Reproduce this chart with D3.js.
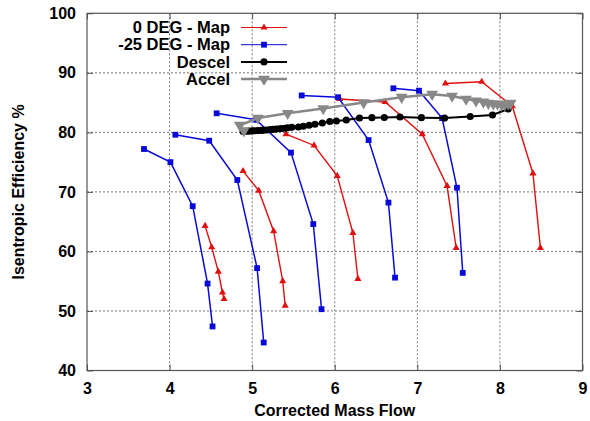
<!DOCTYPE html>
<html>
<head>
<meta charset="utf-8">
<script src="https://cdn.jsdelivr.net/npm/d3@7"></script>
<style>
  body { margin: 0; background: #fff; }
  svg text { font-family: "Liberation Sans", Arial, sans-serif; font-weight: bold; }
</style>
</head>
<body>
<svg id="chart"></svg>
<script>
// speed lines, [corrected mass flow, isentropic efficiency]
const map0deg = [
  [[4.43, 64.3], [4.51, 60.7], [4.59, 56.6], [4.64, 53.1], [4.66, 52.0]],
  [[4.89, 73.5], [5.08, 70.2], [5.26, 63.4], [5.37, 55.0], [5.40, 50.9]],
  [[5.41, 79.7], [5.75, 77.8], [6.03, 72.7], [6.22, 63.1], [6.28, 55.4]],
  [[6.06, 85.6], [6.61, 85.1], [7.06, 79.7], [7.36, 71.0], [7.47, 60.6]],
  [[7.34, 88.2], [7.78, 88.5], [8.15, 84.4], [8.40, 73.1], [8.49, 60.6]]
];

const map25deg = [
  [[3.69, 77.2], [4.01, 75.0], [4.28, 67.6], [4.46, 54.6], [4.52, 47.4]],
  [[4.07, 79.6], [4.48, 78.6], [4.82, 72.0], [5.06, 57.2], [5.14, 44.7]],
  [[4.57, 83.2], [5.05, 82.1], [5.47, 76.6], [5.74, 64.6], [5.84, 50.3]],
  [[5.60, 86.2], [6.04, 85.9], [6.41, 78.7], [6.65, 68.2], [6.73, 55.6]],
  [[6.71, 87.4], [7.02, 87.0], [7.30, 82.4], [7.48, 70.7], [7.55, 56.4]]
];

const descel = [
  [4.89, 80.15], [4.93, 80.18], [4.96, 80.2], [5.00, 80.24], [5.03, 80.27],
  [5.07, 80.3], [5.11, 80.33], [5.14, 80.37], [5.18, 80.4], [5.22, 80.45],
  [5.25, 80.5], [5.29, 80.55], [5.33, 80.6], [5.36, 80.65], [5.40, 80.7],
  [5.43, 80.77], [5.48, 80.84], [5.56, 80.9], [5.62, 81.02], [5.69, 81.19],
  [5.76, 81.37], [5.85, 81.58], [5.94, 81.83], [6.02, 81.91], [6.14, 82.08],
  [6.30, 82.41], [6.45, 82.47], [6.60, 82.5], [6.79, 82.58], [7.05, 82.47],
  [7.33, 82.4], [7.64, 82.67], [7.91, 82.92], [8.10, 83.93]
];

const accel = [
  [4.90, 80.3], [4.85, 81.2], [5.07, 82.4], [5.43, 83.2], [5.86, 84.0],
  [6.35, 85.0], [6.81, 85.9], [7.18, 86.4], [7.42, 86.1], [7.59, 85.6],
  [7.71, 85.3], [7.80, 85.1], [7.86, 84.9], [7.92, 84.8], [7.97, 84.8],
  [8.02, 84.7], [8.06, 84.7], [8.10, 84.8], [8.13, 84.9]
];

const xTicks = [3, 4, 5, 6, 7, 8, 9];
const yTicks = [40, 50, 60, 70, 80, 90, 100];

const W = 590, H = 421;
const margin = { top: 13.3, right: 7.5, bottom: 50.5, left: 87 };
const width = W - margin.left - margin.right;
const height = H - margin.top - margin.bottom;

const root = d3.select("#chart").attr("width", W).attr("height", H);
const svg = root.append("g").attr("transform", `translate(${margin.left},${margin.top})`);

const x = d3.scaleLinear().domain([3, 9]).range([0, width]);
const y = d3.scaleLinear().domain([40, 100]).range([height, 0]);

// grid
svg.append("g").selectAll("line").data(xTicks.slice(1, -1)).enter().append("line")
  .attr("x1", d => x(d)).attr("x2", d => x(d)).attr("y1", 0).attr("y2", height)
  .attr("stroke", "#777").attr("stroke-width", 1).attr("stroke-dasharray", "2,2");
svg.append("g").selectAll("line").data(yTicks.slice(1, -1)).enter().append("line")
  .attr("y1", d => y(d)).attr("y2", d => y(d)).attr("x1", 0).attr("x2", width)
  .attr("stroke", "#777").attr("stroke-width", 1).attr("stroke-dasharray", "2,2");

// axes with inward ticks on all sides
const ax = [
  svg.append("g").attr("transform", `translate(0,${height})`)
    .call(d3.axisBottom(x).tickValues(xTicks).tickFormat(d3.format("d")).tickSizeInner(-6).tickSizeOuter(0).tickPadding(12)),
  svg.append("g")
    .call(d3.axisLeft(y).tickValues(yTicks).tickFormat(d3.format("d")).tickSizeInner(-6).tickSizeOuter(0).tickPadding(11)),
  svg.append("g")
    .call(d3.axisTop(x).tickValues(xTicks).tickSizeInner(-6).tickSizeOuter(0).tickFormat("")),
  svg.append("g").attr("transform", `translate(${width},0)`)
    .call(d3.axisRight(y).tickValues(yTicks).tickSizeInner(-6).tickSizeOuter(0).tickFormat(""))
];
ax.forEach(g => {
  g.selectAll("path").remove();
  g.selectAll("line").attr("stroke", "#555");
  g.selectAll("text").attr("font-size", 16).attr("fill", "#000");
});

svg.append("rect").attr("width", width).attr("height", height)
  .attr("fill", "none").attr("stroke", "#555").attr("stroke-width", 1.2);

const line = d3.line().x(d => x(d[0])).y(d => y(d[1]));
const tri = d3.symbol().type(d3.symbolTriangle).size(22);
const sq = d3.symbol().type(d3.symbolSquare).size(34);
const circ = d3.symbol().type(d3.symbolCircle).size(40);
const dtri = d3.symbol().type(d3.symbolTriangle).size(60);

function series(data, color, lw, sym, rot) {
  const g = svg.append("g");
  g.append("path").datum(data).attr("d", line)
    .attr("fill", "none").attr("stroke", color).attr("stroke-width", lw);
  g.selectAll("path.pt").data(data).enter().append("path").attr("class", "pt")
    .attr("d", sym)
    .attr("transform", d => `translate(${x(d[0])},${y(d[1])})` + (rot ? " rotate(180)" : ""))
    .attr("fill", color);
}

map0deg.forEach(c => series(c, "#e01010", 1.4, tri));
map25deg.forEach(c => series(c, "#0a0ad8", 1.5, sq));
series(descel, "#000", 2, circ);
series(accel, "#888", 2.5, dtri, true);

// legend
const legend = [
  { name: "0 DEG - Map", color: "#e01010", lw: 1, sym: tri },
  { name: "-25 DEG - Map", color: "#0a0ad8", lw: 1, sym: sq },
  { name: "Descel", color: "#000", lw: 2, sym: circ },
  { name: "Accel", color: "#888", lw: 2.5, sym: dtri, rot: true }
];
const lg = root.append("g");
legend.forEach((d, i) => {
  const ly = 27.5 + i * 17.2;
  lg.append("text").attr("x", 230).attr("y", ly).attr("dy", "0.35em")
    .attr("text-anchor", "end").attr("font-size", 16.5).text(d.name);
  lg.append("line").attr("x1", 241).attr("x2", 287).attr("y1", ly).attr("y2", ly)
    .attr("stroke", d.color).attr("stroke-width", d.lw);
  lg.append("path").attr("d", d.sym)
    .attr("transform", `translate(264,${ly})` + (d.rot ? " rotate(180)" : ""))
    .attr("fill", d.color);
});

// axis titles
root.append("text").attr("x", margin.left + width / 2).attr("y", 416)
  .attr("text-anchor", "middle").attr("font-size", 16).text("Corrected Mass Flow");
root.append("text").attr("transform", `translate(24,${margin.top + height / 2}) rotate(-90)`)
  .attr("text-anchor", "middle").attr("font-size", 16).text("Isentropic Efficiency %");
</script>
</body>
</html>
